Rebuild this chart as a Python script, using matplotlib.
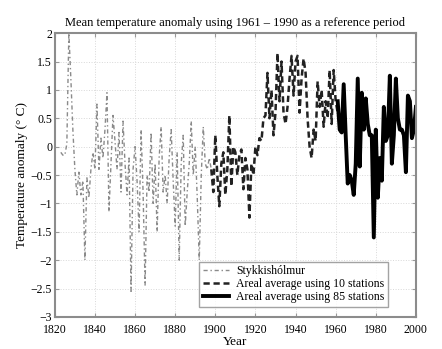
import numpy as np
import matplotlib
matplotlib.use('Agg')
import matplotlib.pyplot as plt

plt.rcParams['font.family'] = ['Liberation Serif', 'DejaVu Serif']

# Stykkishólmur station, annual anomaly (deg C)
STYKK_YEARS = list(range(1823, 1899))
STYKK_VALUES = [
    -0.1, -0.15, -0.15, 0.05, 2.0, 1.2, 0.3, -0.4, -0.85, -0.45,
    -0.85, -0.6, -2.0, -0.55, -0.9, -0.4, -0.1, -0.4, 0.75, -0.4,
    0.15, -0.2, 0.3, 0.95, -1.15, -0.3, 0.55, 0.1, -0.4, 0.25,
    -0.8, 0.45, -0.3, -0.85, -0.2, -2.55, -0.4, 0.0, -0.6, -1.5,
    0.3, -0.8, -2.45, -0.5, -0.8, 0.25, -1.0, -0.3, -1.5, -0.2,
    0.35, -0.8, -0.5, -1.0, -0.2, 0.3, -0.6, -1.4, -0.1, -2.0,
    -0.3, 0.2, -1.4, -0.8, -0.3, 0.45, -0.5, 0.0, -0.9, -2.0,
    -0.5, 0.35, -0.3, -0.4, -0.2, -0.4,
]

# areal average, 10 stations
AREA10_YEARS = list(range(1898, 1962))
AREA10_VALUES = [
    -0.4, -0.8, 0.2, -0.5, -1.05, -0.3, -0.1, -0.85, -0.4, 0.55,
    -0.7, 0.0, -0.1, -0.5, -0.15, -0.05, -0.75, -0.2, -0.4, -1.25,
    -0.3, -0.5, 0.0, -0.15, 0.15, 0.1, 0.5, 0.55, 1.3, 0.5,
    1.0, 0.2, 0.6, 1.65, 0.8, 1.5, 0.6, 0.4, 0.7, 1.2,
    1.6, 0.9, 1.5, 1.6, 0.6, 1.2, 1.55, 1.3, 0.5, 0.0,
    -0.2, 0.3, 0.1, 1.15, 0.7, 1.0, 0.35, 0.8, 0.5, 1.35,
    0.4, 1.35, 0.8, 0.6,
]

# areal average, 85 stations
AREA85_YEARS = list(range(1961, 2001))
AREA85_VALUES = [
    0.8, 0.3, 0.25, 1.1, 0.2, -0.65, -0.5, -0.6, -0.85, -0.3,
    1.2, -0.35, 0.95, 0.3, 0.85, 0.4, 0.2, 0.2, -1.6, 0.3,
    -0.9, -0.2, -0.6, 0.7, 0.1, 0.2, 1.25, -0.3, 0.2, 1.2,
    0.5, 0.3, 0.3, 0.2, -0.45, 0.9, 0.8, 0.15, 0.3, 0.7,
]

fig = plt.figure(figsize=(4.42, 3.49), dpi=100)
ax = fig.add_axes([0.124, 0.092, 0.817, 0.813])

ax.plot(STYKK_YEARS, STYKK_VALUES, linestyle=(0, (3, 2, 1, 2)), color='#8a8a8a',
        lw=1.0, label='Stykkishólmur')
ax.plot(AREA10_YEARS, AREA10_VALUES, linestyle=(0, (2.5, 1.5)), color='#222222',
        lw=1.8, label='Areal average using 10 stations')
ax.plot(AREA85_YEARS, AREA85_VALUES, '-', color='black', lw=2.8,
        label='Areal average using 85 stations')

ax.set(
    xlim=[1820, 2000],
    ylim=[-3, 2],
    xticks=range(1820, 2001, 20),
    yticks=np.arange(-3, 2.01, 0.5),
)
ax.set_yticklabels(['\u22123', '\u22122.5', '\u22122', '\u22121.5', '\u22121', '\u22120.5',
                    '0', '0.5', '1', '1.5', '2'])
ax.grid(True, color='#d8d8d8', linestyle=':', lw=0.7)
ax.tick_params(direction='in', labelsize=8.5, length=3, color='#999999',
               top=True, right=True)
ax.tick_params(axis='x', pad=5)
ax.tick_params(axis='y', pad=2)
for s in ax.spines.values():
    s.set_color('#8c8c8c')
    s.set_linewidth(1.5)

ax.set_title('Mean temperature anomaly using 1961 \u2013 1990 as a reference period',
             fontsize=9, pad=5)
ax.set_xlabel('Year', fontsize=9.5, labelpad=0)
ax.set_ylabel('Temperature anomaly (\u00b0 C)', fontsize=9.5, labelpad=2)

leg = ax.legend(loc='lower right', bbox_to_anchor=(0.922, 0.035), fontsize=8.5,
                frameon=True, fancybox=False, borderpad=0.3, labelspacing=0.1,
                handlelength=2.2, handletextpad=0.6, borderaxespad=0)
leg.get_frame().set_edgecolor('#8c8c8c')
leg.get_frame().set_linewidth(1.0)

fig.savefig('out.png', dpi=100)
